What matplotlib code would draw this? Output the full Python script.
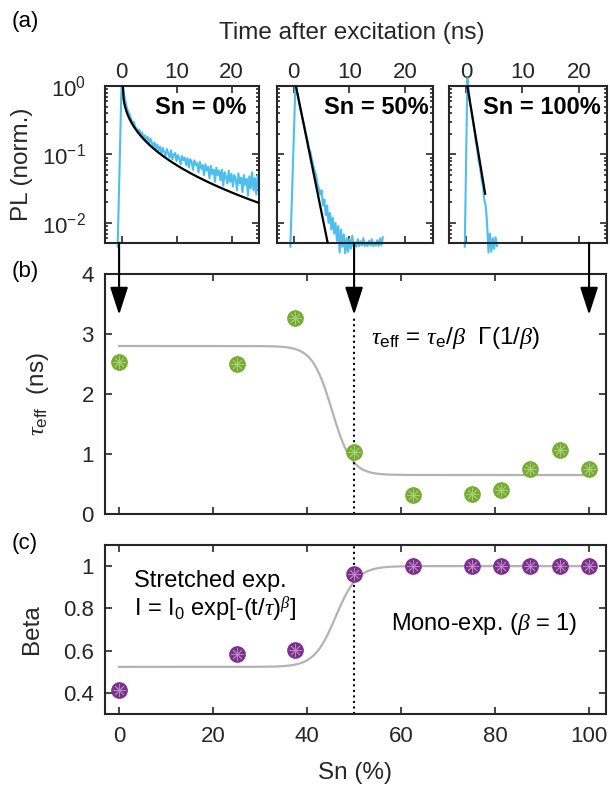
import numpy as np
import matplotlib
matplotlib.use('Agg')
import matplotlib.pyplot as plt
from matplotlib.patches import ArrowStyle

plt.rcParams['font.family'] = ['Liberation Sans', 'DejaVu Sans']
plt.rcParams['mathtext.fontset'] = 'custom'
plt.rcParams['mathtext.rm'] = 'Liberation Sans'
plt.rcParams['mathtext.it'] = 'Liberation Serif:italic'
plt.rcParams['mathtext.bf'] = 'Liberation Sans:bold'
plt.rcParams['axes.unicode_minus'] = False
plt.rcParams['axes.linewidth'] = 1.5
plt.rcParams['xtick.direction'] = 'in'
plt.rcParams['ytick.direction'] = 'in'

# ---- data ----
sn = [0, 25, 37.5, 50, 62.5, 75, 81.25, 87.5, 93.75, 100]
tau_eff = [2.54, 2.50, 3.27, 1.04, 0.31, 0.33, 0.40, 0.75, 1.07, 0.75]
beta = [0.414, 0.584, 0.603, 0.962, 1.0, 1.0, 1.0, 1.0, 1.0, 1.0]

# sigmoid guide lines (high, low, centre, width)
tau_guide = (2.80, 0.65, 45.3, 2.1)
beta_guide = (0.523, 1.0, 46.1, 2.3)

# PL traces (time in ns, normalised PL)
t0 = [-0.7, 0.0, 0.25] + [0.5 + 0.25 * k for k in range(99)]
pl0 = [0.0045, 1.0, 0.95,
       0.72, 0.58,
       0.47, 0.42, 0.38, 0.33,
       0.29, 0.30, 0.25, 0.24,
       0.22, 0.23, 0.19, 0.21,
       0.17, 0.19, 0.16, 0.18,
       0.14, 0.17, 0.15, 0.13,
       0.15, 0.12, 0.14, 0.115,
       0.13, 0.10, 0.125, 0.11,
       0.095, 0.12, 0.105, 0.09,
       0.115, 0.085, 0.10, 0.105,
       0.08, 0.098, 0.088, 0.072,
       0.095, 0.082, 0.09, 0.07,
       0.088, 0.065, 0.085, 0.078,
       0.06, 0.082, 0.07, 0.075,
       0.055, 0.078, 0.062, 0.07,
       0.05, 0.072, 0.058, 0.066,
       0.045, 0.068, 0.052, 0.06,
       0.04, 0.064, 0.05, 0.058,
       0.042, 0.06, 0.035, 0.055,
       0.047, 0.038, 0.058, 0.04,
       0.052, 0.034, 0.05, 0.044,
       0.03, 0.053, 0.038, 0.046,
       0.028, 0.05, 0.036, 0.044,
       0.025, 0.048, 0.032, 0.055,
       0.03, 0.045, 0.026, 0.05,
       0.033]
t50 = [-0.6, 0.3] + [0.5 + 0.25 * k for k in range(63)]
pl50 = [0.0045, 1.0,
        0.90, 0.70,
        0.55, 0.45, 0.36, 0.30,
        0.24, 0.19, 0.16, 0.12,
        0.11, 0.085, 0.07, 0.058,
        0.05, 0.038, 0.032, 0.026,
        0.03, 0.018, 0.022, 0.013,
        0.018, 0.010, 0.014, 0.008,
        0.012, 0.007, 0.010, 0.0055,
        0.009, 0.0037, 0.008, 0.0045,
        0.0068, 0.0036, 0.006, 0.0038,
        0.0058, 0.0042, 0.0065, 0.0045,
        0.0052, 0.0045, 0.0058, 0.0046,
        0.0054, 0.0047, 0.006, 0.0046,
        0.0052, 0.0046, 0.0055, 0.0047,
        0.0058, 0.0046, 0.0052, 0.0047,
        0.0056, 0.0046, 0.006, 0.0047,
        0.0062]
t100 = [-0.2, 0.25, 0.5, 0.75, 1.0, 1.25, 1.5, 1.75, 2.0, 2.25, 2.5, 2.75, 3.0, 3.25,
        3.5, 3.75, 4.0, 4.25, 4.5, 4.75, 5.0, 5.25, 5.5]
pl100 = [0.0045, 1.3, 0.85, 0.55, 0.42, 0.30, 0.22, 0.15, 0.12, 0.08, 0.065, 0.045,
         0.035, 0.022, 0.018, 0.01, 0.0037, 0.007, 0.0038, 0.006, 0.0042, 0.0062,
         0.0046]

# fits: (t start, t end, tau, beta)
fits = [(0.25, 25.0, 0.95, 0.42), (0.4, 6.2, 1.08, 1.0), (0.25, 3.4, 0.87, 1.0)]
labels = ['Sn = 0%', 'Sn = 50%', 'Sn = 100%']
label_x = [0.92, 0.97, 0.96]

txt = '#262626'
blue = '#4DBEEE'
green = '#77AC30'
purple = '#7E2F8E'

W, H = 610, 785
fig = plt.figure(figsize=(W / 100, H / 100), dpi=100)

def box(x0, y0, x1, y1):
    return [x0 / W, 1 - y1 / H, (x1 - x0) / W, (y1 - y0) / H]

def style(ax):
    ax.tick_params(which='both', top=True, right=True, colors=txt,
                   labelsize=16, width=1.2)
    ax.tick_params(which='major', length=5)
    ax.tick_params(which='minor', length=2.5)
    for s in ax.spines.values():
        s.set_color('#262626')

# ---- (a) top panels ----
lefts = [(105, 259), (277, 433), (449, 607)]
traces = [(t0, pl0), (t50, pl50), (t100, pl100)]
for i in range(3):
    ax = fig.add_axes(box(lefts[i][0], 86, lefts[i][1], 243))
    t, p = traces[i]
    ax.plot(t, p, color=blue, lw=1.5, clip_on=False, zorder=2)
    ts, te, tau, b = fits[i]
    tt = np.linspace(ts, te, 200)
    ax.plot(tt, np.exp(-((tt - ts) / tau) ** b), color='k', lw=1.6, zorder=3)
    ax.set_yscale('log')
    ax.set_xlim(-3, 25)
    ax.set_ylim(5.1e-3, 1)
    ax.set_xticks([0, 10, 20])
    style(ax)
    ax.tick_params(axis='x', labeltop=True, labelbottom=False, pad=2)
    ax.tick_params(axis='y', pad=14)
    if i > 0:
        ax.tick_params(axis='y', labelleft=False)
    else:
        ax.set_ylabel('PL (norm.)', fontsize=17.5, color=txt)
        ax.yaxis.label.set_verticalalignment('center')
        ax.yaxis.set_label_coords((22 - 105) / 154, 0.5)
    ax.text(label_x[i], 0.86, labels[i], transform=ax.transAxes, ha='right', va='center',
            fontsize=17, fontweight='bold', color='k')

fig.text(352 / W, 1 - 33 / H, 'Time after excitation (ns)', ha='center', va='center',
         fontsize=17.5, color=txt)

# ---- (b) tau_eff ----
axb = fig.add_axes(box(105, 274, 606, 514))
xs = np.linspace(0, 100, 400)
hi, lo, x0, w = tau_guide
axb.plot(xs, lo + (hi - lo) / (1 + np.exp((xs - x0) / w)), color='#b3b3b3', lw=1.6, zorder=1)
axb.plot(sn, tau_eff, 'o', color=green, ms=11, zorder=3)
axb.plot(sn, tau_eff, marker=(8, 2, 0), ls='none', color='#a9cf7d', ms=9, mew=0.6, zorder=4)
axb.plot([50, 50], [0, 3.3], ':', color='k', lw=1.5, zorder=2)
axb.set_xlim(-3, 103.6)
axb.set_ylim(0, 4)
axb.set_xticks(range(0, 101, 20))
axb.set_yticks([0, 1, 2, 3, 4])
style(axb)
axb.tick_params(axis='x', labelbottom=False)
axb.tick_params(axis='y', pad=8)
axb.set_ylabel(r'$\tau_{\rm eff}$  (ns)', fontsize=17.5, color=txt)
axb.yaxis.label.set_verticalalignment('center')
axb.yaxis.set_label_coords((38 - 105) / 501, 0.5)
axb.text(53.6, 2.93, r'$\tau_{\rm eff}$ = $\tau_{\rm e}$/$\beta$  $\Gamma$(1/$\beta$)',
         fontsize=17.5, color='k', va='center')
for x in [0, 50, 100]:
    axb.annotate('', xy=(x, 3.32), xytext=(x, 4.52),
                 arrowprops=dict(arrowstyle=ArrowStyle('-|>', head_length=1.7, head_width=0.55),
                                 color='k', lw=1.5, shrinkA=0, shrinkB=0),
                 annotation_clip=False)

# ---- (c) beta ----
axc = fig.add_axes(box(105, 545, 606, 714))
lo, hi, x0, w = beta_guide
axc.plot(xs, lo + (hi - lo) / (1 + np.exp(-(xs - x0) / w)), color='#b3b3b3', lw=1.6, zorder=1)
axc.plot(sn, beta, 'o', color=purple, ms=11, zorder=3)
axc.plot(sn, beta, marker=(8, 2, 0), ls='none', color='#b48cc0', ms=9, mew=0.6, zorder=4)
axc.axvline(50, ls=':', color='k', lw=1.5, zorder=2)
axc.set_xlim(-3, 103.6)
axc.set_ylim(0.3, 1.1)
axc.set_xticks(range(0, 101, 20))
axc.set_yticks([0.4, 0.6, 0.8, 1.0])
axc.set_yticklabels(['0.4', '0.6', '0.8', '1'])
style(axc)
axc.tick_params(axis='x', pad=9)
axc.tick_params(axis='y', pad=8)
axc.set_xlabel('Sn (%)', fontsize=17.5, color=txt)
axc.xaxis.label.set_verticalalignment('center')
axc.xaxis.set_label_coords(0.5, (714 - 773) / 169)
axc.set_ylabel('Beta', fontsize=17.5, color=txt)
axc.yaxis.label.set_verticalalignment('center')
axc.yaxis.set_label_coords((32 - 105) / 501, 0.5)
axc.text(3.2, 0.93, 'Stretched exp.', fontsize=17, color='k', va='center')
axc.text(3.2, 0.795, r'I = I$_0$ exp[-(t/$\tau$)$^{\beta}$]', fontsize=17, color='k', va='center')
axc.text(57.9, 0.725, r'Mono-exp. ($\beta$ = 1)', fontsize=17, color='k', va='center')

fig.text(12 / W, 1 - 22 / H, '(a)', fontsize=16, color='k', va='center')
fig.text(12 / W, 1 - 272 / H, '(b)', fontsize=16, color='k', va='center')
fig.text(12 / W, 1 - 543 / H, '(c)', fontsize=16, color='k', va='center')

fig.savefig('out.png', dpi=100)
